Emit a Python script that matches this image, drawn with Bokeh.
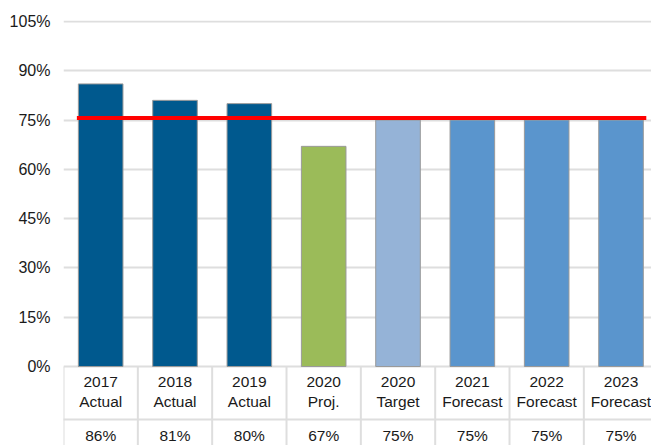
from bokeh.plotting import figure
from bokeh.models import Range1d, FixedTicker, PrintfTickFormatter, ColumnDataSource
from bokeh.core.properties import value
from bokeh.embed import file_html
from bokeh.resources import INLINE

# ---- data ----
years = ["2017", "2018", "2019", "2020", "2020", "2021", "2022", "2023"]
kinds = ["Actual", "Actual", "Actual", "Proj.", "Target", "Forecast", "Forecast", "Forecast"]
values = [86, 81, 80, 67, 75, 75, 75, 75]
bar_colors = ["#00598E", "#00598E", "#00598E", "#9BBB59", "#95B3D7", "#5A95CD", "#5A95CD", "#5A95CD"]
target_value = 75.6
y_ticks = [0, 15, 30, 45, 60, 75, 90, 105]

FONT = "Liberation Sans"
n = len(values)
xs = list(range(n))
bar_w = 0.6

# table layout (in value units below the zero line)
table_bottom = -24.04
row_split = -16.1
line1_y = -4.6
line2_y = -10.7
val_y = -21.0

p = figure(width=651, height=445,
           x_range=Range1d(-0.5, 7.41), y_range=Range1d(table_bottom, 105.3),
           output_backend="svg", toolbar_location=None,
           x_axis_location=None,
           min_border_left=63, min_border_top=20, min_border_bottom=0, min_border_right=0)
p.outline_line_color = None
p.background_fill_color = "white"

# y axis
p.yaxis.ticker = FixedTicker(ticks=y_ticks)
p.yaxis.formatter = PrintfTickFormatter(format="%d%%")
p.yaxis.axis_line_color = None
p.yaxis.major_tick_line_color = None
p.yaxis.minor_tick_line_color = None
p.yaxis.major_tick_out = 0
p.yaxis.major_tick_in = 0
p.yaxis.major_label_standoff = 13
p.yaxis.major_label_text_font = FONT
p.yaxis.major_label_text_font_size = "16px"
p.yaxis.major_label_text_color = "#1a1a1a"
p.xgrid.grid_line_color = None
p.ygrid.ticker = FixedTicker(ticks=y_ticks)
p.ygrid.grid_line_color = "#DEDEDE"
p.ygrid.grid_line_width = 2

src = ColumnDataSource(dict(x=xs, top=values, color=bar_colors,
                            year=years, kind=kinds,
                            label=[f"{v}%" for v in values]))

p.vbar(x="x", top="top", bottom=0, width=bar_w, fill_color="color",
       line_color="#9A9A9A", line_width=1, source=src)

# target line
p.line([xs[0] - bar_w / 2 - 0.02, xs[-1] + bar_w / 2 + 0.04], [target_value, target_value],
       line_color="#FF0000", line_width=4)

# table grid
bounds = [i - 0.5 for i in range(n + 1)]
p.segment(x0=bounds, y0=[0] * len(bounds), x1=bounds, y1=[table_bottom] * len(bounds),
          line_color="#DEDEDE", line_width=2)
p.segment(x0=[-0.54], y0=[row_split], x1=[n - 0.5], y1=[row_split],
          line_color="#DEDEDE", line_width=2)

# table text
common = dict(text_font=value(FONT), text_font_size=value("15.5px"), text_color="#1a1a1a",
              text_align="center", text_baseline="middle", source=src)
p.text(x="x", y=line1_y, text="year", **common)
p.text(x="x", y=line2_y, text="kind", **common)
p.text(x="x", y=val_y, text="label", **common)

open("out.html", "w").write(file_html(p, INLINE))
